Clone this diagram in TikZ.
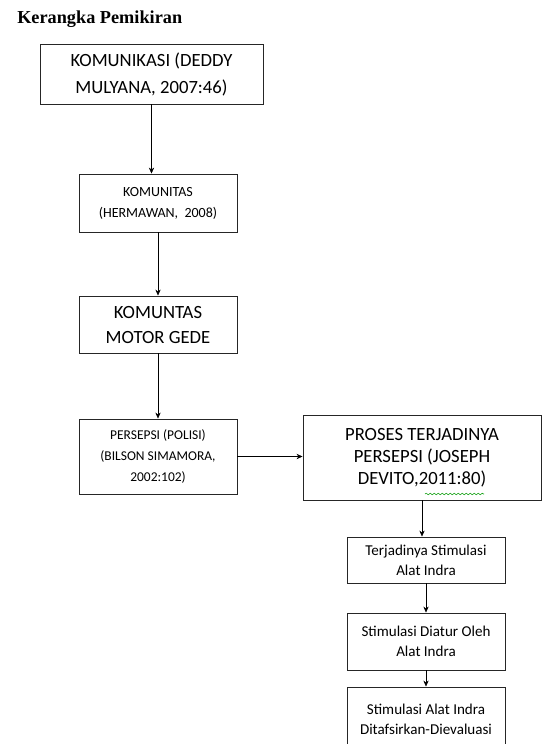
\documentclass[tikz,border=0pt]{standalone}
\usepackage{fontspec}
\setmainfont{Carlito}
\newfontfamily\titlefont{Liberation Serif}
\usetikzlibrary{arrows.meta,decorations.pathmorphing}

\begin{document}
\begin{tikzpicture}[x=0.75pt, y=-0.75pt,
    box/.style={rectangle, draw=black!85, line width=0.7pt, align=center, inner sep=0pt},
    bigtext/.style={font=\fontsize{14}{20.25}\selectfont},
    midtext/.style={font=\fontsize{14}{16.5}\selectfont},
    smalltext/.style={font=\fontsize{10.5}{15.75}\selectfont},
    steptext/.style={font=\fontsize{11.3}{15}\selectfont},
    spellwave/.style={draw=green!60!black, line width=0.4pt, decorate,
        decoration={snake, segment length=3pt, amplitude=0.6pt}},
    >={Stealth[length=4.5pt,width=4pt]}]
    \useasboundingbox (0,0) rectangle (542,744);
    \clip (0,0) rectangle (542,744);

    % Title
    \node[anchor=base west, inner sep=0pt, font=\titlefont\bfseries\fontsize{13.7}{16}\selectfont] (TITLE) at (17,23) {Kerangka Pemikiran};

    % Main column
    \node[box, bigtext, minimum width=167.25pt, minimum height=45pt] (KOMUNIKASI) at (151.5,74) {KOMUNIKASI (DEDDY\\MULYANA, 2007:46)};
    \node[box, smalltext, minimum width=118.5pt, minimum height=43.5pt] (KOMUNITAS) at (158,203) {KOMUNITAS\\(HERMAWAN,~~2008)};
    \node[box, bigtext, font=\fontsize{14}{18.75}\selectfont, minimum width=118.5pt, minimum height=42.75pt] (MOTOR) at (158,324.5) {KOMUNTAS\\MOTOR GEDE};
    \node[box, smalltext, font=\fontsize{10.1}{15.75}\selectfont, minimum width=118.5pt, minimum height=56.25pt] (PERSEPSI) at (158,456.5) {PERSEPSI (POLISI)\\(BILSON SIMAMORA,\\2002:102)};

    % Right column
    \node[box, midtext, minimum width=178.5pt, minimum height=63.75pt] (PROSES) at (422,457.5) {PROSES TERJADINYA\\PERSEPSI (JOSEPH\\DEVITO,2011:80)};
    \node[box, steptext, minimum width=118.5pt, minimum height=34.5pt] (STIMULASI) at (426,560) {Terjadinya Stimulasi\\Alat Indra};
    \node[box, steptext, minimum width=118.5pt, minimum height=42.75pt] (DIATUR) at (426,641.5) {Stimulasi Diatur Oleh\\Alat Indra};
    \node[box, steptext, minimum width=118.5pt, minimum height=48.75pt] (DITAFSIRKAN) at (426,719.5) {Stimulasi Alat Indra\\Ditafsirkan-Dievaluasi};

    % Spell check mark under the year
    \draw[spellwave] (425,494) -- (484,494);

    % Arrows
    \draw[->] (KOMUNIKASI.south) -- (KOMUNIKASI.south |- KOMUNITAS.north);
    \draw[->] (KOMUNITAS.south) -- (MOTOR.north);
    \draw[->] (MOTOR.south) -- (PERSEPSI.north);
    \draw[->] (PERSEPSI.east) -- (PERSEPSI.east -| PROSES.west);
    \draw[->] (PROSES.south) -- (PROSES.south |- STIMULASI.north);
    \draw[->] (STIMULASI.south) -- (DIATUR.north);
    \draw[->] (DIATUR.south) -- (DITAFSIRKAN.north);
\end{tikzpicture}
\end{document}
